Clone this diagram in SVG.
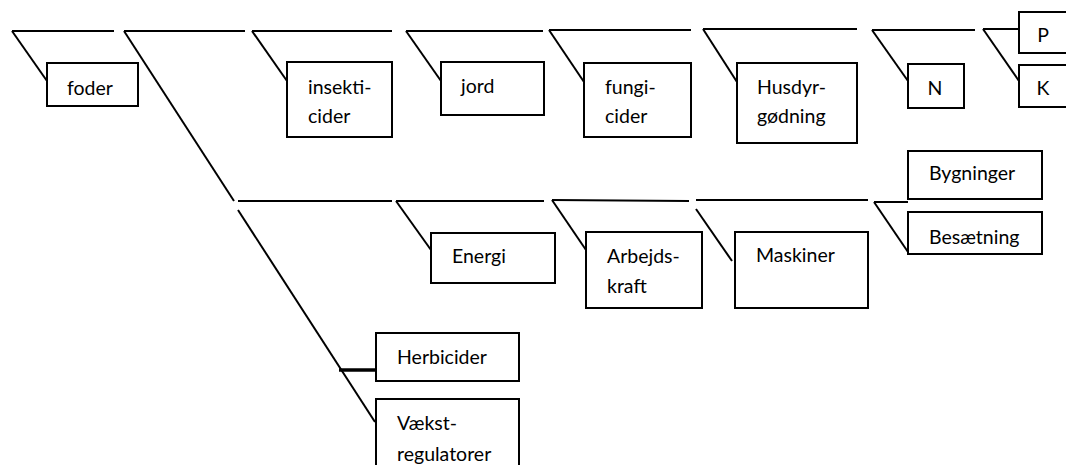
<svg xmlns="http://www.w3.org/2000/svg" width="1066" height="465" viewBox="0 0 1066 465">
<style>
  .box { fill: #ffffff; stroke: #000000; stroke-width: 2; }
  .ln { fill: none; stroke: #000000; stroke-width: 2; stroke-linecap: butt; }
  .thick { fill: none; stroke: #000000; stroke-width: 3.5; }
  text { font-family: "Lato", "Open Sans", "Liberation Sans", sans-serif; font-size: 19.5px; fill: #000000; }
  .c { text-anchor: middle; }
</style>
<defs>
  <clipPath id="clipBes"><rect x="908" y="212" width="134" height="38"/></clipPath>
</defs>
<rect width="1066" height="465" fill="#ffffff"/>

<g id="connectors">
  <!-- top row -->
  <line class="ln" x1="12" y1="31" x2="114" y2="31"/>
  <line class="ln" x1="12" y1="31" x2="47" y2="81"/>
  <line class="ln" x1="124" y1="31" x2="245" y2="31"/>
  <line class="ln" x1="124" y1="31" x2="234" y2="201"/>
  <line class="ln" x1="252" y1="31" x2="392" y2="31"/>
  <line class="ln" x1="252" y1="31" x2="287" y2="81"/>
  <line class="ln" x1="406" y1="31" x2="543" y2="31"/>
  <line class="ln" x1="406" y1="31" x2="441" y2="81"/>
  <line class="ln" x1="549" y1="30" x2="691" y2="30"/>
  <line class="ln" x1="549" y1="30" x2="584" y2="82"/>
  <line class="ln" x1="703" y1="29" x2="857" y2="29"/>
  <line class="ln" x1="703" y1="29" x2="737" y2="82"/>
  <line class="ln" x1="872" y1="30" x2="975" y2="30"/>
  <line class="ln" x1="872" y1="30" x2="908" y2="81"/>
  <line class="ln" x1="983" y1="29" x2="1019" y2="29"/>
  <line class="ln" x1="983" y1="29" x2="1019" y2="81"/>
  <!-- middle row -->
  <line class="ln" x1="238" y1="201" x2="392" y2="201"/>
  <line class="ln" x1="238" y1="210" x2="375" y2="422"/>
  <line class="ln" x1="396" y1="201" x2="544" y2="201"/>
  <line class="ln" x1="396" y1="201" x2="431" y2="250"/>
  <line class="ln" x1="552" y1="200" x2="689" y2="201"/>
  <line class="ln" x1="552" y1="200" x2="586" y2="250"/>
  <line class="ln" x1="696" y1="200" x2="868" y2="200"/>
  <line class="ln" x1="696" y1="209" x2="732" y2="261"/>
  <line class="ln" x1="874" y1="202" x2="908" y2="202"/>
  <line class="ln" x1="874" y1="202" x2="908" y2="252"/>
  <!-- bottom -->
  <line class="thick" x1="339" y1="370" x2="376" y2="370"/>
</g>

<g id="node-foder">
  <rect class="box" x="47" y="63" width="91" height="43"/>
  <text x="67" y="95">foder</text>
</g>
<g id="node-insekticider">
  <rect class="box" x="287" y="62" width="105" height="75"/>
  <text x="308" y="94">insekti-</text>
  <text x="308" y="123">cider</text>
</g>
<g id="node-jord">
  <rect class="box" x="441" y="62" width="103" height="53"/>
  <text x="461" y="93">jord</text>
</g>
<g id="node-fungicider">
  <rect class="box" x="584" y="63" width="107" height="74"/>
  <text x="605" y="94">fungi-</text>
  <text x="605" y="123">cider</text>
</g>
<g id="node-husdyrgodning">
  <rect class="box" x="737" y="63" width="120" height="80"/>
  <text x="757" y="94">Husdyr-</text>
  <text x="757" y="123">gødning</text>
</g>
<g id="node-N">
  <rect class="box" x="908" y="64" width="56" height="44"/>
  <text class="c" x="935" y="95">N</text>
</g>
<g id="node-P">
  <rect class="box" x="1019" y="12" width="60" height="41"/>
  <text class="c" x="1043" y="42">P</text>
</g>
<g id="node-K">
  <rect class="box" x="1019" y="65" width="60" height="42"/>
  <text class="c" x="1043" y="95">K</text>
</g>
<g id="node-energi">
  <rect class="box" x="431" y="233" width="124" height="50"/>
  <text x="452" y="263">Energi</text>
</g>
<g id="node-arbejdskraft">
  <rect class="box" x="586" y="232" width="116" height="76"/>
  <text x="607" y="263">Arbejds-</text>
  <text x="607" y="293">kraft</text>
</g>
<g id="node-maskiner">
  <rect class="box" x="735" y="232" width="133" height="76"/>
  <text x="756" y="262">Maskiner</text>
</g>
<g id="node-bygninger">
  <rect class="box" x="908" y="151" width="134" height="48"/>
  <text x="929" y="180">Bygninger</text>
</g>
<g id="node-besaetning">
  <rect class="box" x="908" y="212" width="134" height="42"/>
  <text x="929" y="244" clip-path="url(#clipBes)">Besætning</text>
</g>
<g id="node-herbicider">
  <rect class="box" x="376" y="333" width="143" height="48"/>
  <text x="397" y="364">Herbicider</text>
</g>
<g id="node-vaekstregulatorer">
  <rect class="box" x="376" y="399" width="143" height="75"/>
  <text x="397" y="430">Vækst-</text>
  <text x="397" y="461">regulatorer</text>
</g>
</svg>
